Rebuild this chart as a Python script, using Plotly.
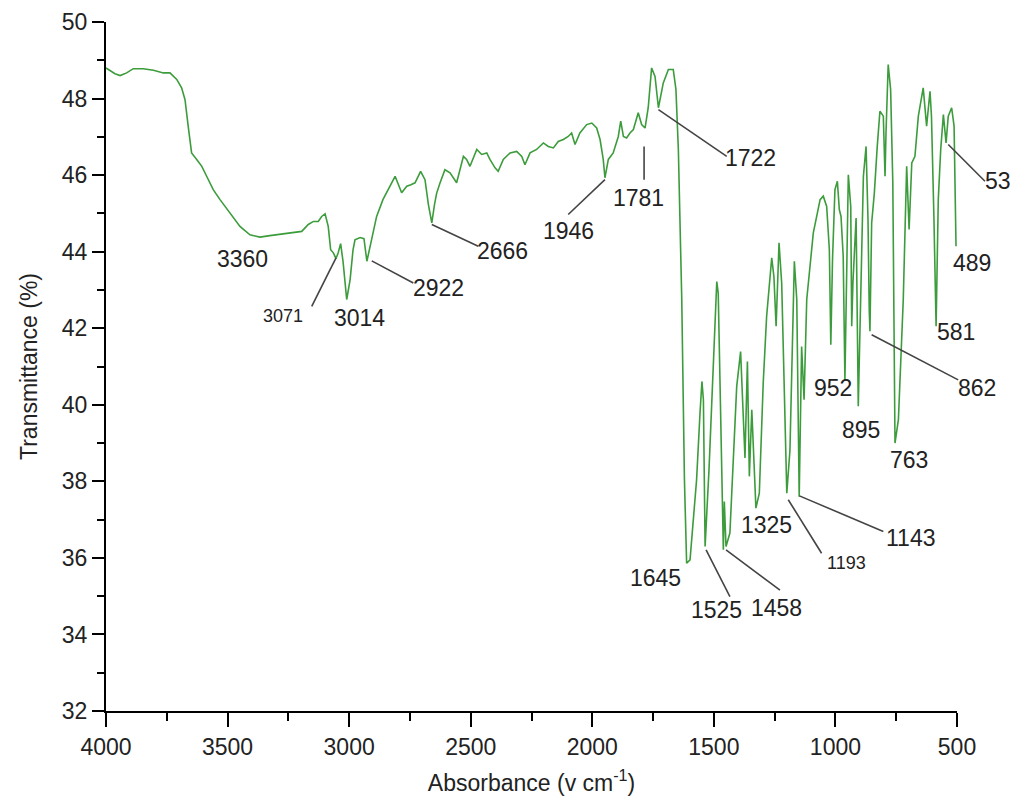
import plotly.graph_objects as go

# FTIR spectrum: wavenumber (cm-1) and transmittance (%)
wavenumber = [
    4000, 3963, 3942, 3915, 3888, 3847, 3805, 3764, 3737, 3709,
    3689, 3675, 3662, 3648, 3627, 3606, 3586, 3559, 3531, 3490,
    3449, 3408, 3367, 3326, 3271, 3230, 3195, 3168, 3147, 3127,
    3113, 3099, 3086, 3076, 3065, 3054, 3045, 3035, 3025, 3010,
    2996, 2984, 2976, 2955, 2939, 2927, 2914, 2887, 2861, 2832,
    2811, 2784, 2763, 2746, 2729, 2706, 2688, 2674, 2660, 2649,
    2640, 2626, 2606, 2585, 2573, 2558, 2530, 2517, 2503, 2475,
    2455, 2434, 2421, 2400, 2387, 2366, 2338, 2311, 2290, 2277,
    2256, 2229, 2201, 2181, 2160, 2140, 2119, 2099, 2085, 2071,
    2051, 2023, 2002, 1982, 1968, 1955, 1948, 1934, 1914, 1893,
    1883, 1872, 1859, 1845, 1831, 1811, 1797, 1783, 1770, 1756,
    1742, 1728, 1708, 1687, 1667, 1656, 1646, 1632, 1621, 1612,
    1598, 1591, 1571, 1557, 1549, 1543, 1536, 1520, 1502, 1488,
    1482, 1468, 1461, 1457, 1450, 1434, 1406, 1390, 1379, 1372,
    1362, 1354, 1344, 1335, 1327, 1313, 1297, 1283, 1262, 1253,
    1244, 1232, 1221, 1200, 1187, 1169, 1159, 1149, 1139, 1129,
    1118, 1091, 1063, 1050, 1036, 1025, 1019, 1012, 1002, 992,
    984, 977, 968, 961, 954, 947, 937, 933, 928, 915,
    906, 895, 885, 874, 866, 861, 858, 851, 840, 828,
    817, 803, 796, 792, 783, 773, 764, 755, 741, 721,
    707, 697, 686, 673, 659, 639, 625, 611, 605, 595,
    586, 577, 567, 556, 545, 536, 522, 512, 504,
]
transmittance = [
    48.80, 48.65, 48.60, 48.67, 48.78, 48.78, 48.74, 48.67, 48.67, 48.50,
    48.28, 47.97, 47.28, 46.58, 46.41, 46.23, 45.97, 45.62, 45.36, 45.01,
    44.66, 44.44, 44.38, 44.42, 44.46, 44.49, 44.53, 44.71, 44.79, 44.79,
    44.92, 44.99, 44.66, 44.05, 43.97, 43.82, 43.97, 44.21, 43.74, 42.75,
    43.27, 44.05, 44.31, 44.37, 44.34, 43.75, 44.14, 44.92, 45.36, 45.73,
    45.97, 45.54, 45.71, 45.75, 45.80, 46.10, 45.88, 45.23, 44.75, 45.23,
    45.53, 45.80, 46.14, 46.06, 45.93, 45.80, 46.49, 46.41, 46.23, 46.67,
    46.54, 46.58, 46.41, 46.19, 46.10, 46.41, 46.58, 46.62, 46.49, 46.27,
    46.58, 46.67, 46.84, 46.75, 46.71, 46.88, 46.93, 47.01, 47.10, 46.80,
    47.10, 47.32, 47.36, 47.23, 46.93, 46.41, 45.93, 46.41, 46.58, 47.01,
    47.41, 47.01, 46.97, 47.10, 47.19, 47.63, 47.32, 47.23, 47.76, 48.80,
    48.58, 47.76, 48.41, 48.76, 48.76, 48.24, 46.67, 42.75, 38.04, 35.86,
    35.95, 36.56, 38.04, 39.78, 40.61, 40.13, 36.30, 38.30, 41.00, 43.22,
    42.92, 38.39, 36.21, 37.47, 36.30, 36.65, 40.48, 41.39, 39.61, 38.61,
    41.13, 38.13, 39.87, 38.65, 37.30, 37.69, 40.57, 42.31, 43.84, 43.35,
    42.05, 44.23, 43.18, 37.69, 38.82, 43.75, 42.75, 37.60, 41.52, 40.13,
    42.75, 44.49, 45.36, 45.45, 45.18, 44.05, 41.57, 43.79, 45.62, 45.84,
    45.10, 44.92, 43.88, 40.65, 43.79, 46.01, 45.18, 42.05, 43.19, 44.88,
    39.96, 43.27, 45.97, 46.75, 44.84, 42.48, 41.92, 44.75, 45.53, 46.75,
    47.67, 47.54, 45.97, 47.10, 48.89, 48.24, 45.80, 39.00, 39.61, 42.75,
    46.23, 44.58, 46.32, 46.49, 47.54, 48.28, 47.28, 48.19, 47.54, 44.92,
    42.05, 45.36, 46.67, 47.58, 46.84, 47.54, 47.76, 47.28, 44.14,
]

# Peak labels placed directly (text, x, y)
plain_labels = ["3360", "3014", "1645", "1325", "952", "895", "763", "581", "489"]
plain_x = [3437, 2958, 1742, 1283, 1011, 896, 696, 504, 440]
plain_y = [43.82, 42.27, 35.47, 36.86, 40.44, 39.35, 38.56, 41.89, 43.70]

# Peak labels with leader lines: line from the band to (end_x, end_y), text at (text_x, text_y)
lead_labels = ["3071", "2922", "2666", "1946", "1781", "1722", "1525", "1458", "1193", "1143", "862", "53"]
lead_band_x = [3054, 2907, 2660, 1948, 1787, 1728, 1532, 1450, 1194, 1148, 851, 536]
lead_band_y = [43.84, 43.76, 44.71, 45.88, 46.75, 47.71, 36.21, 36.21, 37.52, 37.62, 41.83, 46.80]
lead_end_x = [3154, 2736, 2469, 2099, 1787, 1447, 1434, 1228, 1057, 803, 495, 385]
lead_end_y = [42.57, 43.18, 44.14, 44.97, 45.88, 46.49, 34.99, 35.16, 36.12, 36.69, 40.65, 45.84]
lead_text_x = [3271, 2633, 2369, 2099, 1808, 1351, 1489, 1242, 954, 693, 419, 330]
lead_text_y = [42.33, 43.05, 44.01, 44.53, 45.40, 46.45, 34.64, 34.69, 35.86, 36.51, 40.44, 45.84]
small_labels = {"3071", "1193"}

X_RANGE = [4000, 500]
Y_RANGE = [32, 50]


def px(wn):
    """Wavenumber -> paper fraction on the reversed x axis (labels may sit past the axis end)."""
    return (X_RANGE[0] - wn) / (X_RANGE[0] - X_RANGE[1])


def py(t):
    return (t - Y_RANGE[0]) / (Y_RANGE[1] - Y_RANGE[0])


FONT = "Liberation Sans, Arial, sans-serif"
LABEL_SIZE = 23
SMALL_SIZE = 18
TEXT_COLOR = "#222222"

fig = go.Figure()
fig.add_trace(go.Scatter(
    x=wavenumber, y=transmittance, mode="lines",
    line=dict(color="#3c9c3c", width=1.6),
    showlegend=False, hoverinfo="skip",
))

annotations = []
for t, x, y in zip(plain_labels, plain_x, plain_y):
    annotations.append(dict(x=px(x), y=py(y), xref="paper", yref="paper", text=t,
                            showarrow=False, xanchor="center", yanchor="middle",
                            font=dict(family=FONT, size=LABEL_SIZE, color=TEXT_COLOR)))

shapes = []
for t, bx, by, ex, ey, tx, ty in zip(lead_labels, lead_band_x, lead_band_y, lead_end_x,
                                     lead_end_y, lead_text_x, lead_text_y):
    shapes.append(dict(type="line", xref="paper", yref="paper",
                       x0=px(bx), y0=py(by), x1=px(ex), y1=py(ey),
                       line=dict(color="#444444", width=1.6)))
    size = SMALL_SIZE if t in small_labels else LABEL_SIZE
    annotations.append(dict(x=px(tx), y=py(ty), xref="paper", yref="paper", text=t,
                            showarrow=False, xanchor="center", yanchor="middle",
                            font=dict(family=FONT, size=size, color=TEXT_COLOR)))

axis_common = dict(
    showline=True, linecolor="black", linewidth=2,
    ticks="outside", tickcolor="black", tickwidth=2,
    showgrid=False, zeroline=False, mirror=False, automargin=False,
    tickfont=dict(family=FONT, size=23, color=TEXT_COLOR),
)

fig.update_layout(
    width=1016, height=800,
    margin=dict(l=106, r=59, t=22, b=89),
    paper_bgcolor="white", plot_bgcolor="white",
    font=dict(family=FONT, color=TEXT_COLOR),
    xaxis=dict(
        range=X_RANGE, tick0=500, dtick=500, ticklen=14,
        minor=dict(ticks="outside", dtick=250, ticklen=8, tickwidth=1.5, tickcolor="black", showgrid=False),
        title=dict(text="Absorbance (v cm<sup>-1</sup>)", font=dict(family=FONT, size=23, color=TEXT_COLOR), standoff=16),
        **axis_common,
    ),
    yaxis=dict(
        range=Y_RANGE, tick0=32, dtick=2, ticklen=12,
        minor=dict(ticks="outside", dtick=1, ticklen=7, tickwidth=1.5, tickcolor="black", showgrid=False),
        title=dict(text="Transmittance (%)", font=dict(family=FONT, size=23, color=TEXT_COLOR), standoff=18),
        **axis_common,
    ),
    shapes=shapes,
    annotations=annotations,
)

fig.write_html("out.html")
